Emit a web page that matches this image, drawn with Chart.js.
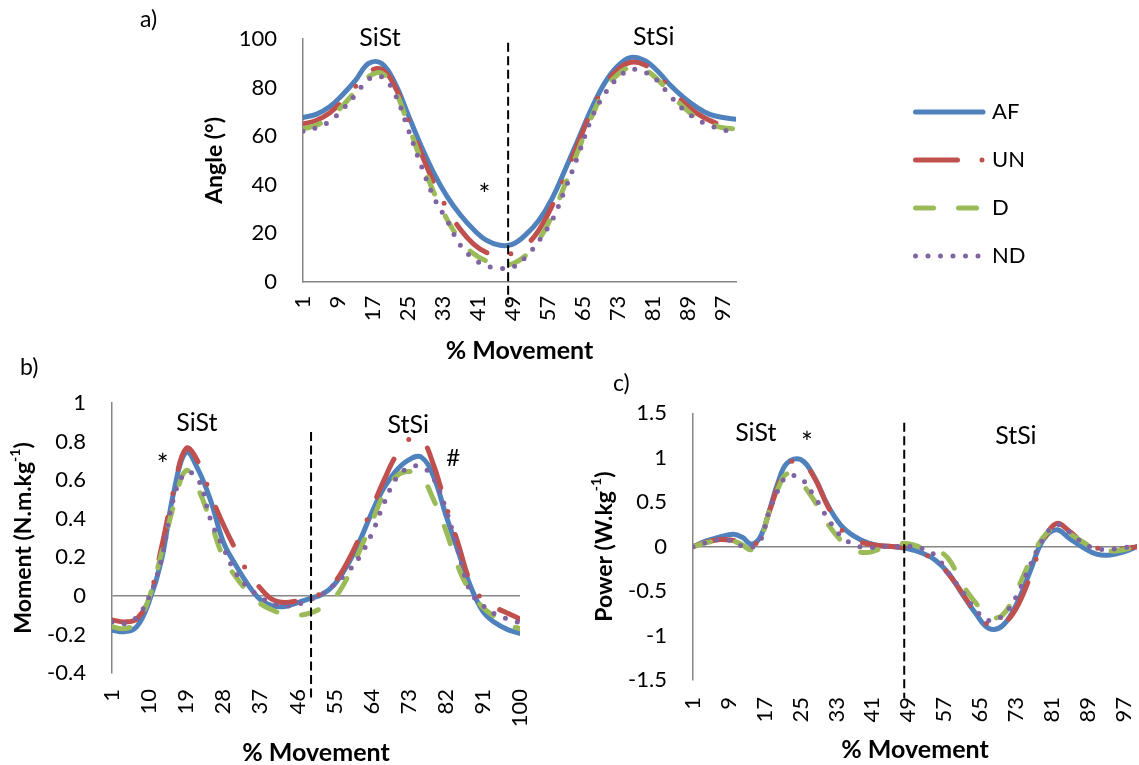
<!DOCTYPE html>
<html>
<head>
<meta charset="utf-8">
<script src="https://cdn.jsdelivr.net/npm/chart.js@4.4.1/dist/chart.umd.min.js"></script>
<style>
  body { margin: 0; background: #fff; width: 1139px; height: 765px; overflow: hidden; position: relative; }
  canvas { position: absolute; }
</style>
</head>
<body>
<canvas id="angle" width="1009" height="372" style="left:130px;top:0px"></canvas>
<canvas id="moment" width="545" height="410" style="left:0px;top:355px"></canvas>
<canvas id="power" width="569" height="400" style="left:570px;top:365px"></canvas>
<script>
// % movement sampled every 3 %
const pct = [1,4,7,10,13,16,19,22,25,28,31,34,37,40,43,46,49,52,55,58,61,64,67,70,73,76,79,82,85,88,91,94,97,100];
const pctPower = [1,4,7,10,12,14,16,18,20,22,25,28,31,34,37,40,43,46,49,52,55,58,61,64,67,70,73,76,79,82,85,88,91,94,97,100];

const xTicksAngle = [1,9,17,25,33,41,49,57,65,73,81,89,97];
const xTicksMoment = [1,10,19,28,37,46,55,64,73,82,91,100];
const xTicksPower = [1,9,17,25,33,41,49,57,65,73,81,89,97];

// a) angle (deg)
const angleAF = [67.7,69,72,77,83,90,90,82,69,56,44.5,35,27.5,21.5,17,15,15.5,19.5,25.5,34.5,46.5,59,71.5,82,89,92.5,91.3,87,81,76,72,69,67.7,67];
const angleUN = [65,66.5,69.5,74.5,80.5,86.5,87.5,80.5,67,53,40.5,30,21.5,15.5,12,11,11.8,15,21.5,31.5,44,57.5,70.5,81,87.5,90.5,89.5,85.5,79.5,74,69.5,66.5,64.5,64];
const angleD  = [63,64.5,67.5,72.5,78.5,84.5,86,79,65,50,36.5,25.5,17,11.5,8.5,7,7.5,11,17.5,27.5,40.5,54.5,68,79,85.5,88.5,87.5,83.5,77.5,72,67.5,65,63.5,63];
const angleND = [62,63.5,66,71,77,83.5,84.5,77.5,63,48,34.5,25,15,9.5,6.5,5.5,6,10.3,17,25.5,38.5,52.5,67.5,77.5,84,87.5,86.5,83,76.5,71,67,64.5,62.6,62];

// b) moment (N.m/kg)
const momentAF = [-0.178,-0.186,-0.16,-0.03,0.185,0.54,0.745,0.65,0.49,0.28,0.16,0.058,-0.02,-0.052,-0.055,-0.035,-0.014,0.008,0.06,0.155,0.28,0.43,0.56,0.65,0.705,0.72,0.62,0.42,0.23,0.05,-0.08,-0.14,-0.175,-0.195];
const momentUN = [-0.125,-0.135,-0.12,-0.01,0.25,0.55,0.765,0.69,0.52,0.37,0.24,0.12,0.04,-0.02,-0.035,-0.025,-0.01,0.015,0.07,0.17,0.3,0.45,0.6,0.73,0.81,0.815,0.68,0.47,0.27,0.07,-0.02,-0.06,-0.09,-0.12];
const momentD  = [-0.16,-0.17,-0.14,-0.01,0.22,0.47,0.65,0.55,0.38,0.2,0.1,0.02,-0.04,-0.075,-0.095,-0.1,-0.09,-0.06,-0.01,0.09,0.23,0.38,0.53,0.62,0.645,0.62,0.5,0.34,0.15,0.02,-0.06,-0.11,-0.15,-0.17];
const momentND = [-0.135,-0.145,-0.11,-0.005,0.19,0.51,0.64,0.6,0.39,0.25,0.12,0.045,-0.005,-0.04,-0.053,-0.045,-0.02,0.01,0.06,0.12,0.2,0.32,0.48,0.61,0.665,0.67,0.61,0.45,0.23,0.02,-0.05,-0.095,-0.12,-0.14];

// c) power (W/kg)
const powerAF = [0,0.064,0.11,0.14,0.105,0.03,0.11,0.4,0.73,0.94,0.98,0.79,0.47,0.24,0.115,0.043,0.008,0,-0.025,-0.07,-0.15,-0.3,-0.53,-0.75,-0.92,-0.89,-0.66,-0.3,0.07,0.19,0.09,-0.01,-0.085,-0.095,-0.06,0];
const powerUN = [0,0.05,0.08,0.07,0.05,0,0.11,0.39,0.69,0.92,0.97,0.78,0.46,0.2,0.08,0.03,0.01,0,-0.02,-0.075,-0.15,-0.31,-0.52,-0.74,-0.88,-0.87,-0.7,-0.36,0.05,0.26,0.17,0.045,-0.015,-0.03,-0.025,0];
const powerD  = [0,0.045,0.064,0.06,0.02,-0.035,0.07,0.4,0.66,0.82,0.72,0.52,0.26,0.07,-0.04,-0.065,-0.02,0.02,0.034,-0.01,-0.03,-0.14,-0.42,-0.63,-0.79,-0.77,-0.51,-0.18,0.1,0.21,0.145,0.05,-0.03,-0.05,-0.035,0];
const powerND = [0,0.045,0.08,0.06,0.006,-0.01,0.064,0.4,0.64,0.79,0.77,0.57,0.32,0.12,0.02,-0.01,0,0,0.005,-0.02,-0.1,-0.3,-0.5,-0.71,-0.83,-0.78,-0.57,-0.23,0.08,0.245,0.16,0.04,-0.025,-0.03,-0.01,0.008];

const groups = ['AF', 'UN', 'D', 'ND'];
const FONT = 'Lato, "Open Sans", sans-serif';
const AXIS = '#868686';
const COLORS = { AF: '#4f81bd', UN: '#c0504d', D: '#9bbb59', ND: '#8064a2' };
const DASH = { AF: [], UN: [42, 24.5, 0, 24.5], D: [18, 25], ND: [0, 12.5] };

Chart.defaults.font.family = FONT;
Chart.defaults.color = '#000';

function lines(xs, vals) {
  return groups.map((g, i) => ({
    label: g,
    data: xs.map((x, k) => ({ x: x, y: vals[i][k] })),
    borderColor: COLORS[g],
    borderWidth: 5,
    borderDash: DASH[g],
    borderCapStyle: 'round',
    borderJoinStyle: 'round',
    pointRadius: 0,
    tension: 0.4,
    fill: false,
    order: groups.length - i   // ND drawn on top, AF at the bottom
  }));
}

function drawLegend(ctx, L) {
  ctx.font = '22px ' + FONT;
  ctx.textAlign = 'left';
  ctx.textBaseline = 'middle';
  groups.forEach((g, i) => {
    const yy = L.y0 + i * L.dy;
    ctx.save();
    ctx.strokeStyle = COLORS[g];
    ctx.lineWidth = 5;
    ctx.lineCap = 'round';
    ctx.setLineDash(DASH[g]);
    ctx.beginPath();
    ctx.moveTo(L.x0, yy);
    ctx.lineTo(L.x1, yy);
    ctx.stroke();
    ctx.restore();
    ctx.fillStyle = '#000';
    ctx.fillText(g, L.tx, yy);
  });
}

const decor = {
  id: 'decor',
  afterDraw(chart, args, o) {
    const { ctx, chartArea: ca, scales: { x, y } } = chart;
    ctx.save();
    // dashed divider between sit-to-stand and stand-to-sit
    const sx = x.getPixelForValue(o.split);
    ctx.strokeStyle = '#000';
    ctx.lineWidth = 2;
    ctx.setLineDash([9, 4.5]);
    ctx.beginPath();
    ctx.moveTo(sx, y.getPixelForValue(o.splitTop));
    ctx.lineTo(sx, ca.bottom + o.splitBelow);
    ctx.stroke();
    ctx.setLineDash([]);

    ctx.fillStyle = '#000';
    ctx.textBaseline = 'middle';
    ctx.textAlign = 'center';
    o.notes.forEach(n => {
      ctx.font = (n.size || 25) + 'px ' + FONT;
      ctx.fillText(n.text, x.getPixelForValue(n.x), y.getPixelForValue(n.y));
    });

    ctx.textAlign = 'left';
    ctx.font = '23px ' + FONT;
    ctx.fillText(o.letter.text, o.letter.x, o.letter.y);

    if (o.legend) drawLegend(ctx, o.legend);

    // y title, with optional superscript
    ctx.translate(ca.left - 88, (ca.top + ca.bottom) / 2);
    ctx.rotate(-Math.PI / 2);
    const big = 'bold 23px ' + FONT, small = 'bold 14px ' + FONT;
    const t = o.yTitle;
    ctx.font = big;
    const w1 = ctx.measureText(t[0]).width, w3 = ctx.measureText(t[2]).width;
    ctx.font = small;
    const w2 = t[1] ? ctx.measureText(t[1]).width : 0;
    let cx = -(w1 + w2 + w3) / 2;
    ctx.textAlign = 'left';
    ctx.font = big; ctx.fillText(t[0], cx, 0); cx += w1;
    if (t[1]) { ctx.font = small; ctx.fillText(t[1], cx, -9); cx += w2; }
    ctx.font = big; ctx.fillText(t[2], cx, 0);
    ctx.restore();
  }
};

function tickText(v) {
  return Math.abs(v) < 1e-9 ? '0' : String(+v.toFixed(2));
}

function makeChart(id, cfg) {
  return new Chart(document.getElementById(id), {
    type: 'line',
    data: { datasets: lines(cfg.xs, cfg.vals) },
    options: {
      responsive: false,
      animation: false,
      devicePixelRatio: 1,
      layout: { padding: cfg.pad },
      plugins: { legend: { display: false }, tooltip: { enabled: false }, decor: cfg.decor },
      scales: {
        x: {
          type: 'linear', min: 1, max: 100,
          afterBuildTicks: s => { s.ticks = cfg.xTicks.map(v => ({ value: v })); },
          afterFit: s => { s.height = cfg.xH; s.paddingLeft = 0; s.paddingRight = 0; },
          grid: { display: false, drawTicks: false },
          border: { display: cfg.xBorder, color: AXIS, width: 1.5 },
          ticks: { autoSkip: false, minRotation: 90, maxRotation: 90, padding: cfg.xPad, color: '#000', font: { size: 22 } },
          title: { display: true, text: '% Movement', color: '#000', font: { size: 25, weight: 'bold', lineHeight: 1 }, padding: { top: 0, bottom: cfg.titlePad } }
        },
        y: {
          min: cfg.yMin, max: cfg.yMax,
          afterFit: s => { s.width = cfg.yW; },
          ticks: { stepSize: cfg.yStep, padding: 26, color: '#000', font: { size: 22 }, callback: tickText },
          grid: {
            drawTicks: false, lineWidth: 1.5,
            color: c => (cfg.zeroLine && c.tick && Math.abs(c.tick.value) < 1e-9) ? AXIS : 'rgba(0,0,0,0)'
          },
          border: { color: AXIS, width: 1.5 }
        }
      }
    },
    plugins: [decor]
  });
}

makeChart('angle', {
  xs: pct, vals: [angleAF, angleUN, angleD, angleND], xTicks: xTicksAngle,
  pad: { left: 0, top: 21, right: 403, bottom: 0 }, yW: 173, xH: 90.3, xPad: 14, titlePad: 9,
  xBorder: true, zeroLine: false, yMin: 0, yMax: 100, yStep: 20,
  decor: {
    split: 47.9, splitTop: 98.5, splitBelow: 21,
    notes: [{ text: 'SiSt', x: 18.6, y: 100.4 }, { text: 'StSi', x: 81.2, y: 100.8 }, { text: '*', x: 42.5, y: 35.5, size: 28 }],
    letter: { text: 'a)', x: 10, y: 20 },
    yTitle: ['Angle (°)', '', ''],
    legend: { x0: 785.5, x1: 853, tx: 862, y0: 112, dy: 48 }
  }
});

makeChart('moment', {
  xs: pct, vals: [momentAF, momentUN, momentD, momentND], xTicks: xTicksMoment,
  pad: { left: 0, top: 48, right: 25, bottom: 0 }, yW: 112, xH: 92, xPad: 16, titlePad: 0,
  xBorder: false, zeroLine: true, yMin: -0.4, yMax: 1, yStep: 0.2,
  decor: {
    split: 49.3, splitTop: 0.85, splitBelow: 27,
    notes: [{ text: 'SiSt', x: 21.6, y: 0.895 }, { text: 'StSi', x: 72.9, y: 0.886 }, { text: '*', x: 13.3, y: 0.675, size: 28 }, { text: '#', x: 83.8, y: 0.713, size: 24 }],
    letter: { text: 'b)', x: 20, y: 13 },
    yTitle: ['Moment (N.m.kg', '-1', ')']
  }
});

makeChart('power', {
  xs: pctPower, vals: [powerAF, powerUN, powerD, powerND], xTicks: xTicksPower,
  pad: { left: 0, top: 48.3, right: 2, bottom: 0 }, yW: 123, xH: 85, xPad: 17, titlePad: 3,
  xBorder: false, zeroLine: true, yMin: -1.5, yMax: 1.5, yStep: 0.5,
  decor: {
    split: 48.1, splitTop: 1.395, splitBelow: 18,
    notes: [{ text: 'SiSt', x: 15, y: 1.28 }, { text: '*', x: 26.4, y: 1.16, size: 28 }, { text: 'StSi', x: 73, y: 1.245 }],
    letter: { text: 'c)', x: 43, y: 19 },
    yTitle: ['Power (W.kg', '-1', ')']
  }
});
</script>
</body>
</html>
